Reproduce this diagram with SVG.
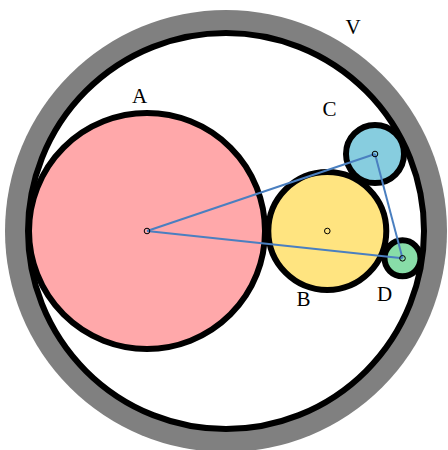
<svg xmlns="http://www.w3.org/2000/svg" width="448" height="450" viewBox="0 0 448 450">
<style>
.lbl{font-family:"Liberation Serif","Times New Roman",serif;font-size:21px;fill:#000;text-anchor:middle}
.ball{stroke:#000;stroke-width:6}
.ctr{fill:none;stroke:#000;stroke-width:1}
.link{stroke:#4a7fc0;stroke-width:2;fill:none}
</style>
<rect width="448" height="450" fill="#fff"/>
<g id="V">
<circle cx="226" cy="231" r="221" fill="#808080"/>
<circle cx="226" cy="231" r="198" fill="#fff" class="ball"/>
<text class="lbl" x="353" y="34">V</text>
</g>
<g id="A">
<circle cx="147" cy="231" r="118" fill="#ffa8aa" class="ball"/>
<text class="lbl" x="139.5" y="103">A</text>
</g>
<g id="B">
<circle cx="327.3" cy="231" r="59" fill="#ffe480" class="ball"/>
<text class="lbl" x="303.5" y="306">B</text>
</g>
<g id="C">
<circle cx="375" cy="154" r="29" fill="#87cddf" class="ball"/>
<text class="lbl" x="329.5" y="116">C</text>
</g>
<g id="D">
<circle cx="402.5" cy="258.3" r="18" fill="#88dda8" class="ball"/>
<text class="lbl" x="384.5" y="300.5">D</text>
</g>
<g id="connectors">
<line class="link" x1="147" y1="231" x2="375" y2="154"/>
<line class="link" x1="147" y1="231" x2="402.5" y2="258.3"/>
<line class="link" x1="375" y1="154" x2="402.5" y2="258.3"/>
</g>
<g id="centers">
<circle class="ctr" cx="147" cy="231" r="2.8" stroke-width="1.5"/>
<circle class="ctr" cx="327.3" cy="231" r="2.8"/>
<circle class="ctr" cx="375" cy="154" r="2.8"/>
<circle class="ctr" cx="402.5" cy="258.3" r="2.8"/>
</g>
</svg>
